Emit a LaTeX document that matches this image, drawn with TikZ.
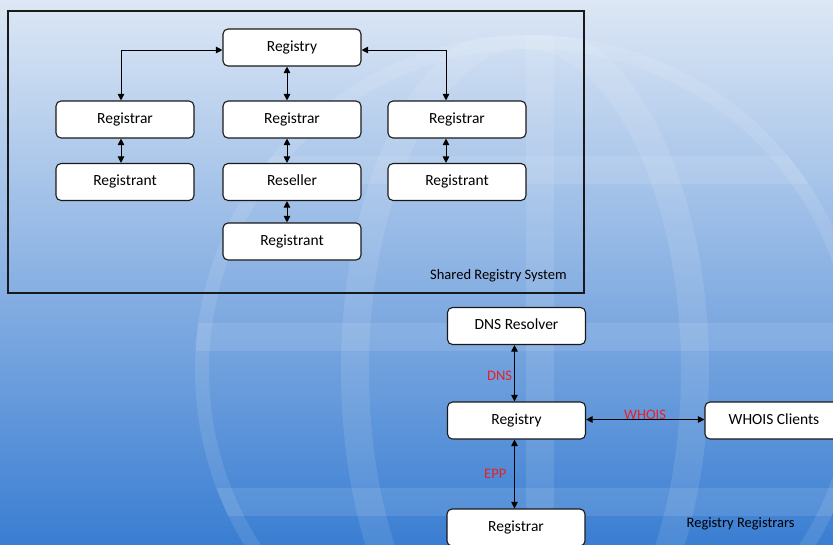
\documentclass[tikz,border=0pt]{standalone}
\usepackage{fontspec}
\setmainfont{Carlito}
\usetikzlibrary{arrows.meta,positioning}
\definecolor{bgtop}{RGB}{221,231,245}
\definecolor{bgbot}{RGB}{58,126,210}
\definecolor{lblred}{RGB}{232,30,40}
\tikzset{
  box/.style={draw=black!90, line width=1.1pt, fill=white, rounded corners=5pt,
    minimum width=138pt, minimum height=37pt, inner sep=0pt,
    font=\fontsize{15.5}{18}\selectfont, text height=10pt, text depth=2.4pt},
  conn/.style={line width=1pt, black, {Triangle[length=6.5pt,width=6.5pt]}-{Triangle[length=6.5pt,width=6.5pt]}},
  lbl/.style={anchor=base west, inner sep=0pt, font=\fontsize{14.5}{17}\selectfont},
  redlbl/.style={lbl, text=lblred},
  globe/.style={white, opacity=0.1, line width=28pt}
}
\begin{document}
\begin{tikzpicture}[x=1pt,y=-1pt]
\useasboundingbox (0,0) rectangle (833,544);
\clip (0,0) rectangle (833,544);
\shade[top color=bgtop, bottom color=bgbot] (0,0) rectangle (833,544);
% globe watermark
\begin{scope}
\clip (530,370) circle (335);
\draw[globe] (530,370) circle (335);
\draw[globe] (540,0) -- (540,720);
\draw[globe] (525,370) ellipse (170 and 335);
\draw[globe] (0,170) -- (900,170);
\draw[globe] (0,337) -- (900,337);
\draw[globe] (0,502) -- (900,502);
\end{scope}
% shared registry frame
\draw[line width=1.3pt, black!90] (8,11) rectangle (584,293);
% top system
\node[box] (reg)  at (292,47.5) {Registry};
\node[box] (rarL) at (125,119.5) {Registrar};
\node[box] (rarM) at (292,119.5) {Registrar};
\node[box] (rarR) at (457,119.5) {Registrar};
\node[box] (rntL) at (125,182) {Registrant};
\node[box] (res)  at (292,182) {Reseller};
\node[box] (rntR) at (457,182) {Registrant};
\node[box] (rntM) at (292,241.5) {Registrant};
\draw[conn] ([xshift=-4pt]rarL.north) |- ([yshift=-2.5pt]reg.west);
\draw[conn] ([xshift=-11pt]rarR.north) |- ([yshift=-2.5pt]reg.east);
\draw[conn] ([xshift=-5pt]reg.south) -- ([xshift=-5pt]rarM.north);
\draw[conn] ([xshift=-5pt]rarM.south) -- ([xshift=-5pt]res.north);
\draw[conn] ([xshift=-5pt]res.south) -- ([xshift=-5pt]rntM.north);
\draw[conn] ([xshift=-4pt]rarL.south) -- ([xshift=-4pt]rntL.north);
\draw[conn] ([xshift=-11pt]rarR.south) -- ([xshift=-11pt]rntR.north);
\node[lbl] (srs) at (430,279) {Shared Registry System};
% bottom system
\node[box] (dns)  at (516.5,326) {DNS Resolver};
\node[box] (reg2) at (516.5,420.5) {Registry};
\node[box] (rar2) at (516,527.5) {Registrar};
\node[box] (who)  at (774,420.5) {WHOIS Clients};
\draw[conn] ([xshift=-2pt]dns.south) -- ([xshift=-2pt]reg2.north);
\draw[conn] ([xshift=-2pt]reg2.south) -- ([xshift=-1.5pt]rar2.north);
\draw[conn] ([yshift=1pt]reg2.east) -- ([yshift=1pt]who.west);
\node[redlbl] (ldns) at (487,380) {DNS};
\node[redlbl] (lepp) at (484,478) {EPP};
\node[redlbl] (lwho) at (624,419.3) {WHOIS};
\node[lbl] (rr) at (686.5,527) {Registry Registrars};
\end{tikzpicture}
\end{document}
